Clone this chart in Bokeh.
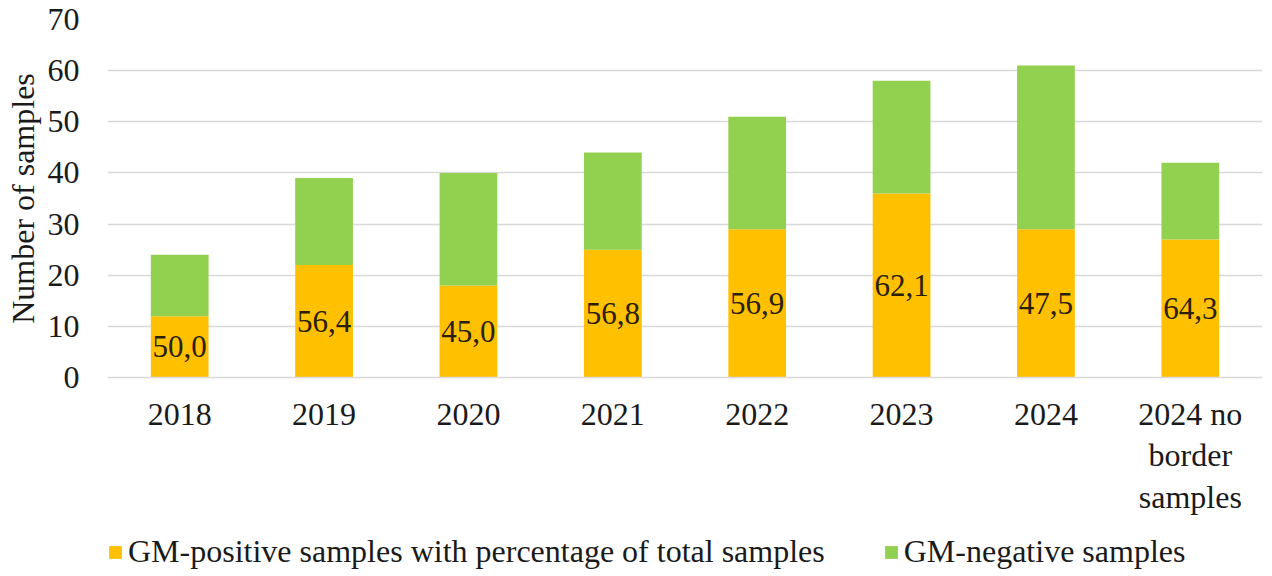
from bokeh.plotting import figure
from bokeh.layouts import column
from bokeh.models import ColumnDataSource, Legend, LegendItem, FactorRange, Range1d, SingleIntervalTicker
from bokeh.embed import file_html
from bokeh.resources import INLINE
from bokeh.core.properties import value

categories = ["2018", "2019", "2020", "2021", "2022", "2023", "2024", "2024 no\nborder\nsamples"]
positive = [12, 22, 18, 25, 29, 36, 29, 27]
total = [24, 39, 40, 44, 51, 58, 61, 42]
negative = [t - p for t, p in zip(total, positive)]
pct_labels = [f"{p / t * 100:.1f}".replace(".", ",") for p, t in zip(positive, total)]
legend_labels = ["GM-positive samples with percentage of total samples", "GM-negative samples"]

YELLOW = "#FFC000"
GREEN = "#92D050"
FONT = "Liberation Serif"
FS = "32px"

src = ColumnDataSource(dict(
    cat=categories,
    pos=positive,
    neg=negative,
    tot=total,
    mid=[p / 2 for p in positive],
    lab=pct_labels,
))

p = figure(
    x_range=FactorRange(factors=categories),
    y_range=Range1d(0, 70),
    frame_width=1155, frame_height=358,
    output_backend="svg", toolbar_location=None,
    min_border_left=107, min_border_right=10, min_border_top=19, min_border_bottom=150,
)
p.outline_line_color = None
p.background_fill_color = "white"

p.vbar(x="cat", bottom=0, top="pos", width=0.4, source=src,
       fill_color=YELLOW, line_color=None)
p.vbar(x="cat", bottom="pos", top="tot", width=0.4, source=src,
       fill_color=GREEN, line_color=None)

p.text(x="cat", y="mid", text="lab", source=src,
       text_font=value(FONT), text_font_size="31px", text_color="#2a2008",
       text_align="center", text_baseline="middle")

p.yaxis.ticker = SingleIntervalTicker(interval=10)
p.yaxis.axis_label = "Number of samples"
p.yaxis.axis_label_text_font = FONT
p.yaxis.axis_label_text_font_size = FS
p.yaxis.axis_label_text_font_style = "normal"
p.yaxis.axis_label_text_color = "#1a1a1a"
p.yaxis.axis_label_standoff = 4
p.yaxis.axis_line_color = None
p.yaxis.major_tick_line_color = None
p.yaxis.minor_tick_line_color = None
p.yaxis.major_label_standoff = 22

p.xaxis.axis_line_color = "#d9d9d9"
p.xaxis.axis_line_width = 1.5
p.xaxis.major_tick_line_color = None
p.xaxis.minor_tick_line_color = None
p.xaxis.major_label_standoff = 12
p.xaxis.major_label_text_line_height = 1.16

for ax in (p.xaxis, p.yaxis):
    ax.major_label_text_font = FONT
    ax.major_label_text_font_size = FS
    ax.major_label_text_color = "#1a1a1a"

p.xgrid.grid_line_color = None
p.ygrid.grid_line_color = "#d9d9d9"
p.ygrid.grid_line_width = 1.5

# Legend strip below the chart (same series, drawn outside its view range)
p2 = figure(
    x_range=FactorRange(factors=categories),
    y_range=Range1d(1000, 1001),
    width=1272, height=49,
    x_axis_type=None, y_axis_type=None,
    output_backend="svg", toolbar_location=None,
    min_border=0,
)
p2.outline_line_color = None
p2.grid.visible = False
l_pos = p2.vbar(x="cat", bottom=0, top="pos", width=0.4, source=src,
                fill_color=YELLOW, line_color=None)
l_neg = p2.vbar(x="cat", bottom="pos", top="tot", width=0.4, source=src,
                fill_color=GREEN, line_color=None)

legend = Legend(
    items=[
        LegendItem(label=legend_labels[0], renderers=[l_pos]),
        LegendItem(label=legend_labels[1], renderers=[l_neg]),
    ],
    orientation="horizontal",
    location=(0, 6),
    label_text_font=FONT,
    label_text_font_size=FS,
    label_text_color="#1a1a1a",
    glyph_width=16, glyph_height=16,
    label_standoff=5,
    spacing=58,
    border_line_color=None,
    background_fill_alpha=0,
    margin=0,
    padding=0,
)
p2.add_layout(legend, "center")

layout = column(p, p2, spacing=0)
open("out.html", "w").write(file_html(layout, INLINE))
